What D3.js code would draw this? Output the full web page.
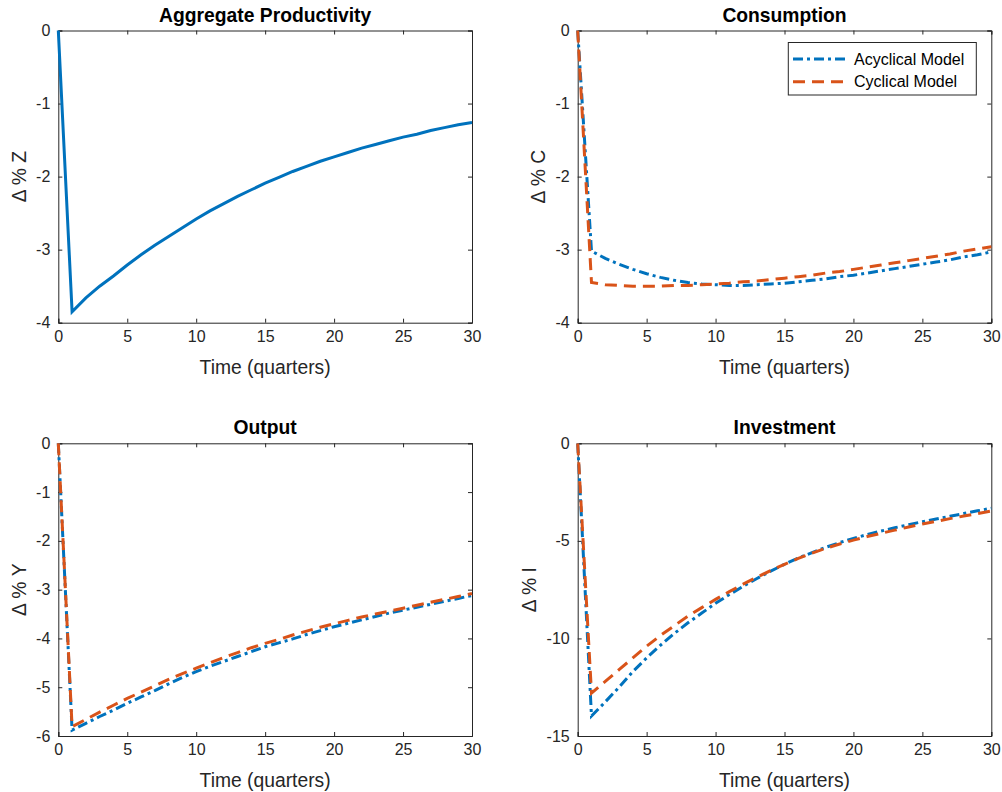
<!DOCTYPE html>
<html>
<head>
<meta charset="utf-8">
<script src="https://cdn.jsdelivr.net/npm/d3@7"></script>
<style>
  body { margin: 0; background: #fff; }
  svg { display: block; font-family: "Liberation Sans", Arial, Helvetica, sans-serif; }
</style>
</head>
<body>
<script>
// impulse responses, quarters 0..30
var quarters = [0,1,2,3,4,5,6,7,8,9,10,11,12,13,14,15,16,17,18,19,20,21,22,23,24,25,26,27,28,29,30];

var prodZ = [0,-3.85,-3.66,-3.50,-3.36,-3.21,-3.07,-2.94,-2.82,-2.70,-2.58,-2.47,-2.37,-2.27,-2.18,-2.09,
  -2.01,-1.93,-1.86,-1.79,-1.73,-1.67,-1.61,-1.56,-1.51,-1.46,-1.42,-1.37,-1.33,-1.29,-1.26];

var consAcyc = [0,-3.02,-3.12,-3.20,-3.27,-3.33,-3.38,-3.42,-3.45,-3.47,-3.48,-3.49,-3.49,-3.48,-3.47,-3.46,
  -3.44,-3.42,-3.40,-3.37,-3.35,-3.32,-3.29,-3.26,-3.23,-3.20,-3.17,-3.14,-3.10,-3.07,-3.03];
var consCyc = [0,-3.45,-3.48,-3.49,-3.50,-3.50,-3.50,-3.49,-3.49,-3.48,-3.47,-3.46,-3.44,-3.43,-3.41,-3.39,
  -3.37,-3.35,-3.32,-3.30,-3.27,-3.24,-3.21,-3.18,-3.15,-3.12,-3.09,-3.06,-3.02,-2.99,-2.96];

var outAcyc = [0,-5.88,-5.74,-5.60,-5.47,-5.33,-5.20,-5.07,-4.93,-4.80,-4.68,-4.57,-4.47,-4.37,-4.27,-4.17,
  -4.09,-4.01,-3.92,-3.84,-3.76,-3.69,-3.62,-3.55,-3.48,-3.42,-3.36,-3.30,-3.24,-3.18,-3.12];
var outCyc = [0,-5.81,-5.66,-5.51,-5.37,-5.23,-5.10,-4.97,-4.84,-4.72,-4.61,-4.50,-4.39,-4.29,-4.19,-4.10,
  -4.02,-3.93,-3.85,-3.77,-3.70,-3.63,-3.56,-3.50,-3.44,-3.38,-3.32,-3.26,-3.20,-3.14,-3.08];

var invAcyc = [0,-13.98,-13.25,-12.5,-11.7,-11.0,-10.35,-9.75,-9.2,-8.7,-8.2,-7.75,-7.33,-6.93,-6.55,-6.2,
  -5.88,-5.6,-5.33,-5.09,-4.87,-4.68,-4.5,-4.33,-4.17,-4.02,-3.88,-3.74,-3.6,-3.46,-3.33];
var invCyc = [0,-12.8,-12.2,-11.6,-11.0,-10.4,-9.85,-9.35,-8.85,-8.42,-8.0,-7.6,-7.22,-6.86,-6.52,-6.2,
  -5.9,-5.63,-5.38,-5.16,-4.96,-4.78,-4.61,-4.45,-4.29,-4.14,-4.0,-3.86,-3.73,-3.6,-3.47];

var xTicks = [0,5,10,15,20,25,30];
var zTicks = [0,-1,-2,-3,-4];
var cTicks = [0,-1,-2,-3,-4];
var yTicks = [0,-1,-2,-3,-4,-5,-6];
var iTicks = [0,-5,-10,-15];

var seriesNames = ["Acyclical Model", "Cyclical Model"];

var BLUE = "#0072BD", ORANGE = "#D95319", AX = "#262626";
var DASHDOT = "10,4,3,4", DASHED = "12,7";

var panels = [
  {title:"Aggregate Productivity", ylab:"\u0394 % Z", left:58.3, right:472, top:30.5, bottom:322.7,
    yDomain:[-4,0], yTicks:zTicks, lines:[{v:prodZ, c:BLUE, d:null}]},
  {title:"Consumption", ylab:"\u0394 % C", left:577.7, right:991.3, top:30.5, bottom:322.7,
    yDomain:[-4,0], yTicks:cTicks, legend:true,
    lines:[{v:consAcyc, c:BLUE, d:DASHDOT}, {v:consCyc, c:ORANGE, d:DASHED}]},
  {title:"Output", ylab:"\u0394 % Y", left:58.3, right:472, top:443.3, bottom:736,
    yDomain:[-6,0], yTicks:yTicks, lines:[{v:outAcyc, c:BLUE, d:DASHDOT}, {v:outCyc, c:ORANGE, d:DASHED}]},
  {title:"Investment", ylab:"\u0394 % I", left:577.7, right:991.3, top:443.3, bottom:736,
    yDomain:[-15,0], yTicks:iTicks, lines:[{v:invAcyc, c:BLUE, d:DASHDOT}, {v:invCyc, c:ORANGE, d:DASHED}]}
];

var svg = d3.select("body").append("svg").attr("width", 1002).attr("height", 792);

panels.forEach(function(p) {
  var x = d3.scaleLinear().domain([0, 30]).range([p.left, p.right]);
  var y = d3.scaleLinear().domain(p.yDomain).range([p.bottom, p.top]);
  var g = svg.append("g");
  var tickLen = 4;
  var fmt = function(d){ return String(d); };

  // ticks on all four sides, pointing inward
  var axB = d3.axisBottom(x).tickValues(xTicks).tickSize(-tickLen).tickPadding(8).tickFormat(fmt);
  var axT = d3.axisTop(x).tickValues(xTicks).tickSize(-tickLen).tickFormat("");
  var axL = d3.axisLeft(y).tickValues(p.yTicks).tickSize(-tickLen).tickPadding(8).tickFormat(fmt);
  var axR = d3.axisRight(y).tickValues(p.yTicks).tickSize(-tickLen).tickFormat("");

  g.append("g").attr("transform", "translate(0," + p.bottom + ")").call(axB);
  g.append("g").attr("transform", "translate(0," + p.top + ")").call(axT);
  var gl = g.append("g").attr("transform", "translate(" + p.left + ",0)").call(axL);
  g.append("g").attr("transform", "translate(" + p.right + ",0)").call(axR);

  g.selectAll(".domain").attr("stroke", AX).attr("stroke-width", 1);
  g.selectAll(".tick line").attr("stroke", AX).attr("stroke-width", 1);
  g.selectAll(".tick text").attr("fill", AX).style("font-size", "16px");
  g.selectAll("g").attr("font-family", null).attr("font-size", null);

  // lines
  p.lines.forEach(function(s) {
    var line = d3.line().x(function(d, i){ return x(quarters[i]); }).y(function(d){ return y(d); });
    g.append("path").datum(s.v)
      .attr("fill", "none").attr("stroke", s.c).attr("stroke-width", 3)
      .attr("stroke-dasharray", s.d).attr("d", line);
  });

  // title
  g.append("text").attr("x", (p.left + p.right) / 2).attr("y", p.top - 9)
    .attr("text-anchor", "middle").attr("font-weight", "bold").attr("font-size", 19.3)
    .attr("fill", "#000").text(p.title);

  // x label
  g.append("text").attr("x", (p.left + p.right) / 2).attr("y", p.bottom + 51)
    .attr("text-anchor", "middle").attr("font-size", 19.3).attr("fill", AX).text("Time (quarters)");

  // y label, just left of the widest tick label
  var minX = d3.min(gl.selectAll(".tick text").nodes(), function(n){ return n.getBBox().x; });
  var yl = p.left + minX - 17;
  g.append("text").attr("transform", "translate(" + yl + "," + ((p.top + p.bottom) / 2) + ") rotate(-90)")
    .attr("text-anchor", "middle").attr("dy", "0.35em").attr("font-size", 19.3).attr("fill", AX).text(p.ylab);

  if (p.legend) {
    var lg = g.append("g");
    lg.append("rect").attr("x", 788.3).attr("y", 42.5).attr("width", 188).attr("height", 52.5)
      .attr("fill", "#fff").attr("stroke", AX).attr("stroke-width", 1);
    p.lines.forEach(function(s, i) {
      var cy = 59 + i * 22.7;
      lg.append("line").attr("x1", 793).attr("x2", 849).attr("y1", cy).attr("y2", cy)
        .attr("stroke", s.c).attr("stroke-width", 3).attr("stroke-dasharray", s.d);
      lg.append("text").attr("x", 854).attr("y", cy).attr("dy", "0.35em")
        .attr("font-size", 16).attr("fill", "#000").text(seriesNames[i]);
    });
  }
});
</script>
</body>
</html>
